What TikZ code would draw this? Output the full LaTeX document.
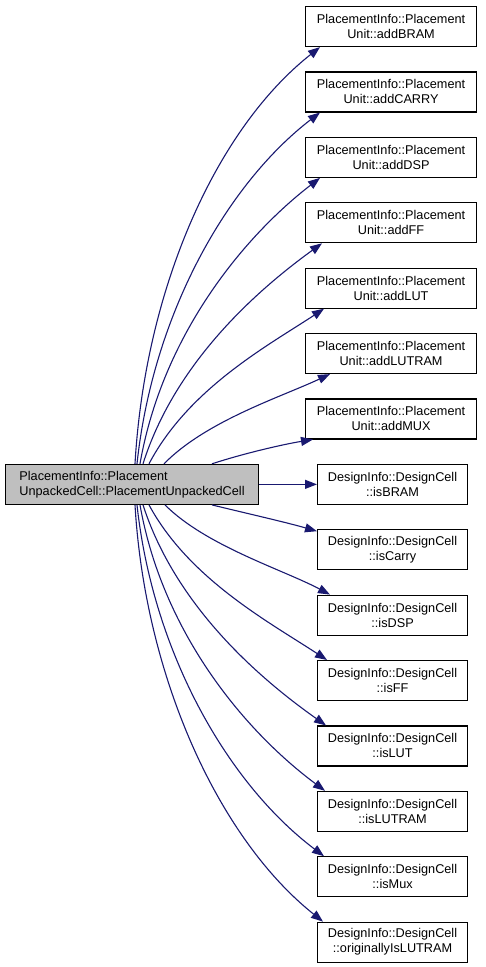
\documentclass[tikz,border=0pt]{standalone}
\usepackage{fontspec}
\setmainfont{Liberation Sans}
\usetikzlibrary{arrows.meta}
\definecolor{edgeblue}{HTML}{191970}
\definecolor{maingray}{HTML}{BFBFBF}
\begin{document}
\begin{tikzpicture}[x=1pt,y=-1pt,
  box/.style={draw=black, line width=1.1pt, fill=white, anchor=north west,
    minimum height=40pt, inner sep=2pt, align=center,
    font=\fontsize{12.7}{15}\selectfont},
  pbox/.style={box, minimum width=171pt},
  dbox/.style={box, minimum width=150pt},
  edge/.style={draw=edgeblue, line width=1.1pt, -{Triangle[length=12pt,width=9pt]}}]
\useasboundingbox (0,0) rectangle (485,967);

\node[box, fill=maingray, minimum width=253pt, align=left] (L) at (5,463.8)
  {PlacementInfo::Placement\\UnpackedCell::PlacementUnpackedCell};

\node[pbox] (B0) at (305,6)     {PlacementInfo::Placement\\Unit::addBRAM};
\node[pbox] (B1) at (305,71.4)  {PlacementInfo::Placement\\Unit::addCARRY};
\node[pbox] (B2) at (305,136.8) {PlacementInfo::Placement\\Unit::addDSP};
\node[pbox] (B3) at (305,202.2) {PlacementInfo::Placement\\Unit::addFF};
\node[pbox] (B4) at (305,267.6) {PlacementInfo::Placement\\Unit::addLUT};
\node[pbox] (B5) at (305,333)   {PlacementInfo::Placement\\Unit::addLUTRAM};
\node[pbox] (B6) at (305,398.4) {PlacementInfo::Placement\\Unit::addMUX};
\node[dbox] (B7) at (317,463.8) {DesignInfo::DesignCell\\::isBRAM};
\node[dbox] (B8) at (317,529.2) {DesignInfo::DesignCell\\::isCarry};
\node[dbox] (B9) at (317,594.6) {DesignInfo::DesignCell\\::isDSP};
\node[dbox] (B10) at (317,660)  {DesignInfo::DesignCell\\::isFF};
\node[dbox] (B11) at (317,725.4) {DesignInfo::DesignCell\\::isLUT};
\node[dbox] (B12) at (317,790.8) {DesignInfo::DesignCell\\::isLUTRAM};
\node[dbox] (B13) at (317,856.2) {DesignInfo::DesignCell\\::isMux};
\node[dbox] (B14) at (317,921.6) {DesignInfo::DesignCell\\::originallyIsLUTRAM};

% upper edges
\draw[edge] ([xshift=130pt]L.north west) .. controls (145,290) and (215,130) .. ([xshift=15pt]B0.south west);
\draw[edge] ([xshift=132pt]L.north west) .. controls (153,314) and (227,184) .. ([xshift=15pt]B1.south west);
\draw[edge] ([xshift=135pt]L.north west) .. controls (162,337) and (242,238) .. ([xshift=15pt]B2.south west);
\draw[edge] ([xshift=138pt]L.north west) .. controls (175,363) and (256,291) .. ([xshift=17pt]B3.south west);
\draw[edge] ([xshift=144pt]L.north west) .. controls (189,388) and (269,345) .. ([xshift=19pt]B4.south west);
\draw[edge] ([xshift=159pt]L.north west) .. controls (206,421) and (281,397) .. ([xshift=25pt]B5.south west);
\draw[edge] ([xshift=207pt]L.north west) .. controls (245,453) and (285,444) .. ([xshift=8pt]B6.south west);
% straight edge
\draw[edge] (L.east) -- (B7.west);
% lower edges
\draw[edge] ([xshift=207pt]L.south west) .. controls (245,513) and (285,522) .. ([yshift=-2pt]B8.north west);
\draw[edge] ([xshift=160pt]L.south west) .. controls (206,546) and (284,570) .. ([xshift=13pt]B9.north west);
\draw[edge] ([xshift=144pt]L.south west) .. controls (189,579) and (269,622) .. ([xshift=10pt]B10.north west);
\draw[edge] ([xshift=138pt]L.south west) .. controls (175,604) and (256,676) .. ([xshift=9pt]B11.north west);
\draw[edge] ([xshift=135pt]L.south west) .. controls (162,630) and (242,729) .. ([xshift=8pt]B12.north west);
\draw[edge] ([xshift=132pt]L.south west) .. controls (153,652) and (227,783) .. ([xshift=7pt]B13.north west);
\draw[edge] ([xshift=130pt]L.south west) .. controls (145,676) and (218,838) .. ([xshift=6pt]B14.north west);
\end{tikzpicture}
\end{document}
